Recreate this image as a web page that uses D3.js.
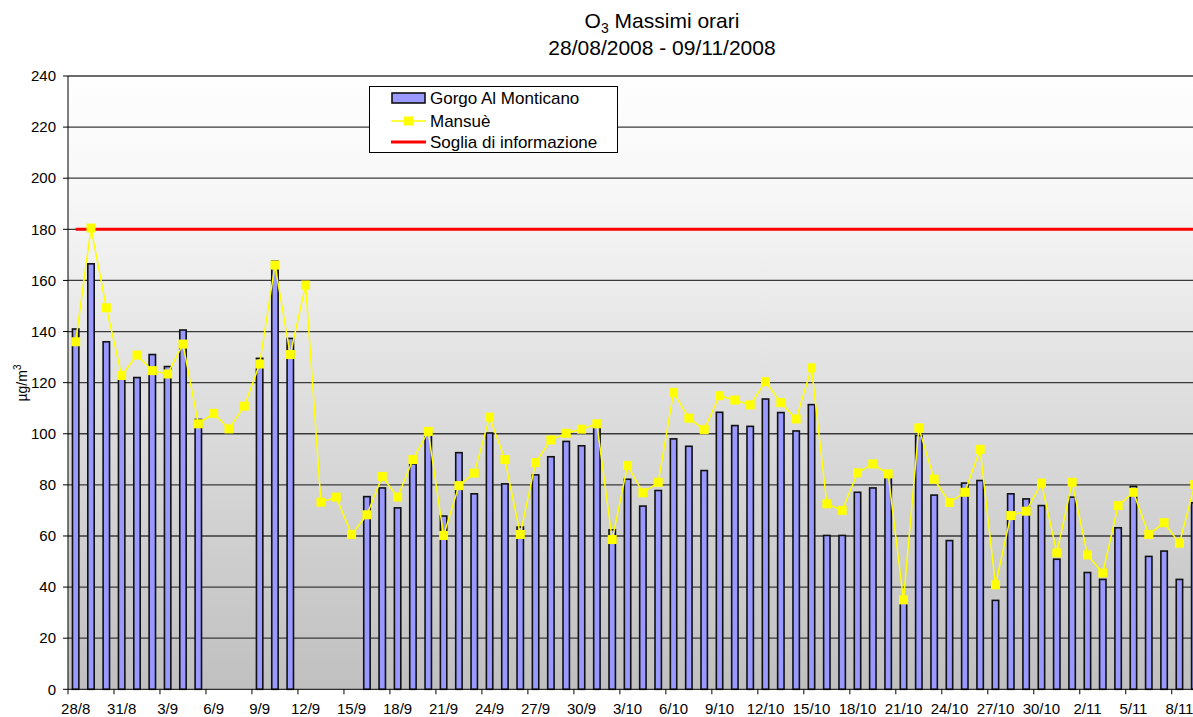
<!DOCTYPE html>
<html>
<head>
<meta charset="utf-8">
<script src="https://cdn.jsdelivr.net/npm/d3@7"></script>
<style>
  html, body { margin: 0; padding: 0; background: #fff; }
  svg { display: block; font-family: "Liberation Sans", Arial, sans-serif; }
</style>
</head>
<body>
<div id="chart"></div>
<script>
'use strict';

// giorni 28/08/2008 - 09/11/2008
var days = [
    '28/8', '29/8', '30/8', '31/8',
    '1/9', '2/9', '3/9', '4/9', '5/9', '6/9', '7/9', '8/9', '9/9', '10/9',
    '11/9', '12/9', '13/9', '14/9', '15/9', '16/9', '17/9', '18/9', '19/9', '20/9',
    '21/9', '22/9', '23/9', '24/9', '25/9', '26/9', '27/9', '28/9', '29/9', '30/9',
    '1/10', '2/10', '3/10', '4/10', '5/10', '6/10', '7/10', '8/10', '9/10', '10/10',
    '11/10', '12/10', '13/10', '14/10', '15/10', '16/10', '17/10', '18/10', '19/10', '20/10',
    '21/10', '22/10', '23/10', '24/10', '25/10', '26/10', '27/10', '28/10', '29/10', '30/10',
    '31/10', '1/11', '2/11', '3/11', '4/11', '5/11', '6/11', '7/11', '8/11', '9/11'
];

var tickLabels = ['28/8', '31/8', '3/9', '6/9', '9/9', '12/9', '15/9', '18/9', '21/9', '24/9',
    '27/9', '30/9', '3/10', '6/10', '9/10', '12/10', '15/10', '18/10', '21/10', '24/10',
    '27/10', '30/10', '2/11', '5/11', '8/11'];

var yTicks = [0, 20, 40, 60, 80, 100, 120, 140, 160, 180, 200, 220, 240];

var gorgo = [
    141, 166.5, 136, 121.5, 122, 131, 126.3, 140.6, 105.6, null, null, null, 129.5, 167.5,
    137.3, null, null, null, null, 75.4, 78.8, 71, 88.2, 100.6,
    67.8, 92.6, 76.5, 100.3, 80.4, 63.5, 83.9, 91, 97, 95.3,
    102.6, 62.4, 82.2, 71.7, 77.8, 98, 95.1, 85.6, 108.4, 103.2,
    102.9, 113.6, 108.3, 101.1, 111.4, 60.2, 60.2, 77.1, 78.8, 83,
    35, 99.3, 76, 58.2, 80.7, 81.7, 34.8, 76.5, 74.5, 71.9,
    50.9, 75.2, 45.7, 43, 63.2, 79.4, 52, 54.1, 43, 73
];

var mansue = [
    136, 180.5, 149.3, 122.8, 130.8, 124.7, 123.4, 135.1, 103.9, 108, 101.9, 110.8, 127.3, 166,
    131, 158.2, 73.2, 75.2, 60.6, 68.3, 83.3, 75.2, 89.9, 100.9,
    60.2, 79.7, 84.6, 106.5, 89.9, 60.6, 88.7, 97.6, 100.2, 101.8,
    103.9, 58.6, 87.6, 76.9, 81, 116.2, 106.1, 101.6, 114.9, 113.2,
    111.3, 120.4, 112.2, 105.8, 125.8, 72.6, 70, 84.7, 88.2, 84.3,
    35, 102.3, 82.2, 73.1, 77.1, 93.9, 40.9, 68, 69.7, 80.7,
    53.4, 81, 52.6, 45.5, 71.9, 77.1, 60.6, 65.2, 57.2, 80.1
];

var soglia = 180;

var seriesNames = ['Gorgo Al Monticano', 'Mansuè', 'Soglia di informazione'];

(function () {
    var width = 1193, height = 717;
    var pLeft = 68, pTop = 76, pBottom = 689.3;
    var band = 15.33;
    var pRight = pLeft + days.length * band;

    var svg = d3.select('#chart')
        .append('svg')
        .attr('width', width)
        .attr('height', height);

    var x = d3.scaleBand()
        .domain(d3.range(days.length))
        .range([pLeft, pRight])
        .padding(0);

    var y = d3.scaleLinear()
        .domain([0, 240])
        .range([pBottom, pTop]);

    var cx = function (i) { return x(i) + x.bandwidth() / 2; };

    // sfondo sfumato
    var grad = svg.append('defs').append('linearGradient')
        .attr('id', 'bg')
        .attr('x1', 0).attr('y1', 0).attr('x2', 0).attr('y2', 1);
    grad.append('stop').attr('offset', 0).attr('stop-color', '#fefefe');
    grad.append('stop').attr('offset', 0.2).attr('stop-color', '#f7f7f7');
    grad.append('stop').attr('offset', 0.5).attr('stop-color', '#e0e0e0');
    grad.append('stop').attr('offset', 1).attr('stop-color', '#c0c0c0');

    svg.append('rect')
        .attr('x', pLeft).attr('y', pTop)
        .attr('width', pRight - pLeft).attr('height', pBottom - pTop)
        .attr('fill', 'url(#bg)');

    // griglia
    svg.append('g').selectAll('line')
        .data(yTicks.filter(function (d) { return d > 0; }))
        .enter().append('line')
        .attr('x1', pLeft).attr('x2', pRight)
        .attr('y1', function (d) { return y(d); })
        .attr('y2', function (d) { return y(d); })
        .attr('stroke', '#3a3a3a')
        .attr('stroke-width', 1.3);

    // barre Gorgo
    var barW = 6.4;
    svg.append('g').selectAll('rect')
        .data(gorgo.map(function (v, i) { return {i: i, v: v}; })
            .filter(function (d) { return d.v !== null; }))
        .enter().append('rect')
        .attr('x', function (d) { return cx(d.i) - barW / 2; })
        .attr('y', function (d) { return y(d.v); })
        .attr('width', barW)
        .attr('height', function (d) { return pBottom - y(d.v); })
        .attr('fill', '#9999ff')
        .attr('stroke', '#111')
        .attr('stroke-width', 1.6);

    // soglia
    svg.append('line')
        .attr('x1', cx(0)).attr('x2', cx(days.length - 1))
        .attr('y1', y(soglia)).attr('y2', y(soglia))
        .attr('stroke', '#ff0000')
        .attr('stroke-width', 3);

    // Mansuè
    var line = d3.line()
        .x(function (d, i) { return cx(i); })
        .y(function (d) { return y(d); });

    svg.append('path')
        .datum(mansue)
        .attr('d', line)
        .attr('fill', 'none')
        .attr('stroke', '#ffff00')
        .attr('stroke-width', 1.5);

    var mk = 9;
    svg.append('g').selectAll('rect')
        .data(mansue)
        .enter().append('rect')
        .attr('x', function (d, i) { return cx(i) - mk / 2; })
        .attr('y', function (d) { return y(d) - mk / 2; })
        .attr('width', mk).attr('height', mk)
        .attr('fill', '#ffff00');

    // asse y
    var yAxis = svg.append('g');
    yAxis.append('line')
        .attr('x1', pLeft).attr('x2', pLeft)
        .attr('y1', pTop).attr('y2', pBottom)
        .attr('stroke', '#000');
    yAxis.selectAll('line.tk')
        .data(yTicks)
        .enter().append('line')
        .attr('class', 'tk')
        .attr('x1', pLeft - 5).attr('x2', pLeft)
        .attr('y1', function (d) { return y(d); })
        .attr('y2', function (d) { return y(d); })
        .attr('stroke', '#000');
    yAxis.selectAll('text')
        .data(yTicks)
        .enter().append('text')
        .attr('x', 56)
        .attr('y', function (d) { return y(d); })
        .attr('dy', '0.35em')
        .attr('text-anchor', 'end')
        .attr('font-size', 15)
        .text(function (d) { return d; });

    var yl = svg.append('text')
        .attr('transform', 'translate(27,383) rotate(-90)')
        .attr('text-anchor', 'middle')
        .attr('font-size', 14);
    yl.append('tspan').text('µg/m');
    yl.append('tspan').attr('font-size', 10).attr('dy', -6).text('3');

    // asse x
    var xAxis = svg.append('g');
    xAxis.append('line')
        .attr('x1', pLeft).attr('x2', pRight)
        .attr('y1', pBottom).attr('y2', pBottom)
        .attr('stroke', '#000');
    var tickIdx = tickLabels.map(function (t) { return days.indexOf(t); });
    xAxis.selectAll('line.tk')
        .data(tickIdx)
        .enter().append('line')
        .attr('class', 'tk')
        .attr('x1', function (i) { return x(i); })
        .attr('x2', function (i) { return x(i); })
        .attr('y1', pBottom).attr('y2', pBottom + 5)
        .attr('stroke', '#000');
    xAxis.selectAll('text')
        .data(tickIdx)
        .enter().append('text')
        .attr('x', function (i) { return cx(i); })
        .attr('y', 714)
        .attr('text-anchor', 'middle')
        .attr('font-size', 15)
        .text(function (i) { return days[i]; });

    // titolo
    var t1 = svg.append('text')
        .attr('x', 662).attr('y', 28)
        .attr('text-anchor', 'middle')
        .attr('font-size', 21);
    t1.append('tspan').text('O');
    t1.append('tspan').attr('font-size', 14).attr('dy', 5).text('3');
    t1.append('tspan').attr('dy', -5).text(' Massimi orari');
    svg.append('text')
        .attr('x', 662).attr('y', 55)
        .attr('text-anchor', 'middle')
        .attr('font-size', 21)
        .text('28/08/2008 - 09/11/2008');

    // legenda
    var lg = svg.append('g');
    lg.append('rect')
        .attr('x', 369.5).attr('y', 86.5)
        .attr('width', 248).attr('height', 66)
        .attr('fill', '#fff')
        .attr('stroke', '#000');
    var rows = [98, 121, 142];
    lg.append('rect')
        .attr('x', 392).attr('y', 93)
        .attr('width', 33).attr('height', 10)
        .attr('fill', '#9999ff').attr('stroke', '#111').attr('stroke-width', 1.6);
    lg.append('line')
        .attr('x1', 391).attr('x2', 426)
        .attr('y1', rows[1]).attr('y2', rows[1])
        .attr('stroke', '#ffff00').attr('stroke-width', 1.5);
    lg.append('rect')
        .attr('x', 408.5 - mk / 2).attr('y', rows[1] - mk / 2)
        .attr('width', mk).attr('height', mk)
        .attr('fill', '#ffff00');
    lg.append('line')
        .attr('x1', 391).attr('x2', 426)
        .attr('y1', rows[2]).attr('y2', rows[2])
        .attr('stroke', '#ff0000').attr('stroke-width', 3);
    lg.selectAll('text')
        .data(seriesNames)
        .enter().append('text')
        .attr('x', 430)
        .attr('y', function (d, i) { return rows[i]; })
        .attr('dy', '0.35em')
        .attr('font-size', 17)
        .text(function (d) { return d; });
})();
</script>
</body>
</html>
